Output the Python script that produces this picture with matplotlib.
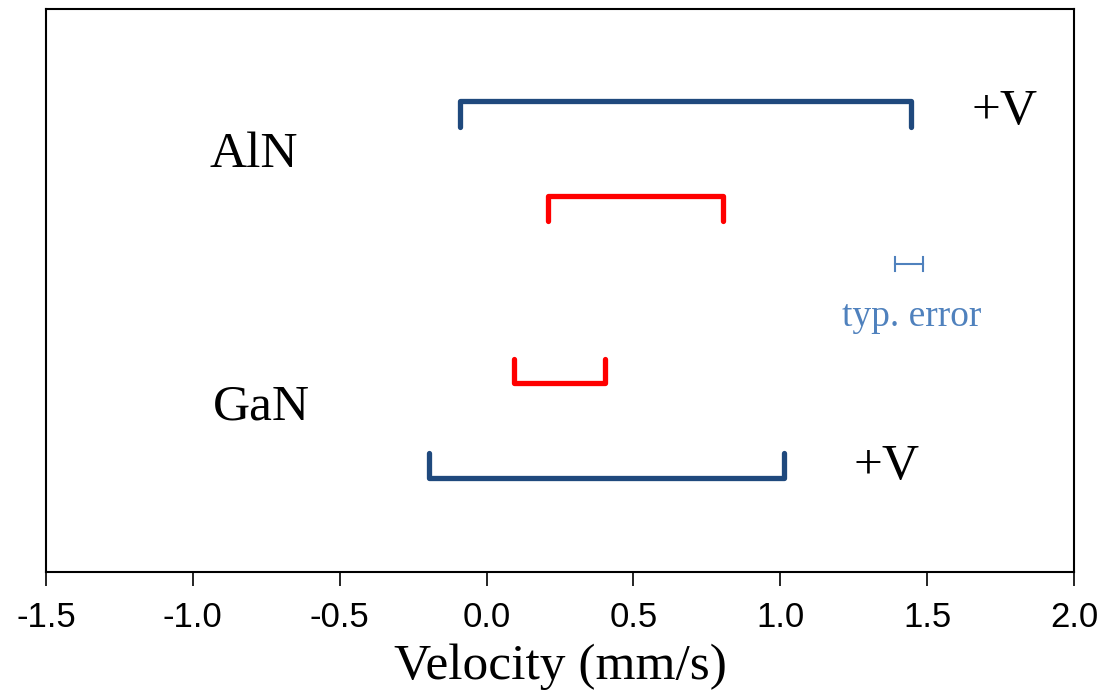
import matplotlib
matplotlib.use("Agg")
import matplotlib.pyplot as plt

# Data
materials = ["AlN", "GaN"]
# ranges (velocity, mm/s)
aln_blue = [-0.09, 1.445]
aln_red = [0.21, 0.805]
gan_red = [0.095, 0.402]
gan_blue = [-0.195, 1.012]
typ_error = [1.39, 1.486]
xticks = [-1.5, -1.0, -0.5, 0.0, 0.5, 1.0, 1.5, 2.0]

BLUE = "#1F497D"
RED = "#FF0000"
LIGHT = "#4F81BD"

fig = plt.figure(figsize=(11.14, 6.97), dpi=100)
ax = fig.add_axes([46/1114, (697-572)/697, (1074-46)/1114, (572-9)/697])
ax.set_xlim(-1.5, 2.0)
ax.set_ylim(0, 10)

def bracket(r, y, tick, color):
    x0, x1 = r
    ax.plot([x0, x0, x1, x1], [y + tick, y, y, y + tick], color=color, lw=3.8,
            solid_capstyle="round", solid_joinstyle="round")

bracket(aln_blue, 8.37, -0.46, BLUE)
bracket(aln_red, 6.68, -0.45, RED)
bracket(gan_red, 3.36, 0.43, RED)
bracket(gan_blue, 1.67, 0.44, BLUE)

# typical error bar
ye = 5.47
ax.plot(typ_error, [ye, ye], color=LIGHT, lw=1.5)
for xe in typ_error:
    ax.plot([xe, xe], [ye - 0.12, ye + 0.12], color=LIGHT, lw=1.5)

serif = ["Liberation Serif", "DejaVu Serif"]
ax.text((210-46)/1028*3.5-1.5, (572-167)/563*10, materials[0], fontsize=37,
        family=serif, ha="left", va="baseline")
ax.text((213-46)/1028*3.5-1.5, (572-420)/563*10, materials[1], fontsize=37,
        family=serif, ha="left", va="baseline")
ax.text((972-46)/1028*3.5-1.5, (572-124)/563*10, "+V", fontsize=37,
        family=serif, ha="left", va="baseline")
ax.text((853-46)/1028*3.5-1.5, (572-479)/563*10, "+V", fontsize=37,
        family=serif, ha="left", va="baseline")
ax.text((912-46)/1028*3.5-1.5, (572-326)/563*10, "typ. error", fontsize=27,
        family=serif, ha="center", va="baseline", color=LIGHT)

ax.set_xticks(xticks)
ax.set_xticklabels([f"{v:.1f}" for v in xticks], family=["Liberation Sans", "DejaVu Sans"], fontsize=25)
ax.tick_params(axis="x", length=10, width=1.2, direction="out", pad=11)
ax.set_yticks([])
for s in ax.spines.values():
    s.set_linewidth(1.5)
ax.set_xlabel("Velocity (mm/s)", family=serif, fontsize=37, labelpad=7)

fig.savefig("out.png", dpi=100)
